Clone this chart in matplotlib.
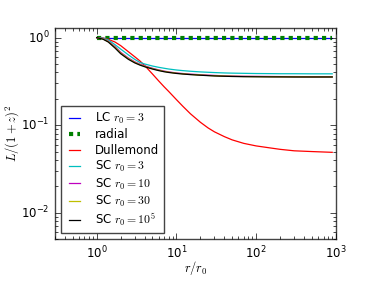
import matplotlib
matplotlib.use("Agg")
import matplotlib.pyplot as plt

plt.style.use("classic")
plt.rcParams.update({
    "font.family": "DejaVu Sans",
    "mathtext.fontset": "cm",
    "figure.facecolor": "white",
    "savefig.facecolor": "white",
})

# -- data ---------------------------------------------------------------
r_flat = [1.0, 900.0]
lc_r3 = [1.0, 1.0]
radial = [1.0, 1.0]

r = [1.0, 1.2, 1.4, 1.7, 2.0, 2.5, 3.0, 3.5, 4.0, 5.0, 6.0, 7.0, 8.0, 10,
     12, 15, 20, 25, 30, 40, 50, 70, 100, 150, 200, 300, 500, 900]
dullemond = [1.0, 0.99, 0.955, 0.89, 0.81, 0.69, 0.605, 0.54, 0.48, 0.385,
             0.32, 0.275, 0.243, 0.196, 0.165, 0.135, 0.108, 0.093, 0.084,
             0.074, 0.068, 0.062, 0.058, 0.055, 0.053, 0.051, 0.050, 0.049]
sc_r3 = [1.0, 0.985, 0.94, 0.83, 0.74, 0.635, 0.565, 0.52, 0.50, 0.474,
         0.458, 0.447, 0.438, 0.427, 0.42, 0.413, 0.406, 0.402, 0.399, 0.395,
         0.393, 0.391, 0.389, 0.388, 0.387, 0.387, 0.386, 0.386]
sc_r10 = [1.0, 0.97, 0.91, 0.79, 0.68, 0.585, 0.53, 0.497, 0.476, 0.447,
          0.428, 0.415, 0.406, 0.395, 0.389, 0.383, 0.377, 0.373, 0.37, 0.366,
          0.364, 0.362, 0.361, 0.36, 0.359, 0.359, 0.358, 0.358]
sc_r30 = [1.0, 0.965, 0.90, 0.775, 0.667, 0.575, 0.522, 0.49, 0.47, 0.442,
          0.424, 0.411, 0.403, 0.392, 0.386, 0.38, 0.374, 0.37, 0.367, 0.364,
          0.362, 0.36, 0.359, 0.358, 0.357, 0.357, 0.356, 0.356]
sc_r1e5 = [1.0, 0.96, 0.89, 0.76, 0.655, 0.565, 0.515, 0.485, 0.465, 0.438,
           0.42, 0.408, 0.40, 0.39, 0.384, 0.378, 0.372, 0.368, 0.365, 0.362,
           0.36, 0.358, 0.357, 0.356, 0.356, 0.355, 0.355, 0.355]

fig = plt.figure(figsize=(3.74, 2.82), dpi=100)
ax = fig.add_axes([0.147, 0.152, 0.751, 0.750])

ax.loglog(r_flat, lc_r3, color="b", lw=0.9, label=r"LC $r_0=3$")
ax.loglog(r_flat, radial, color="g", lw=3, dashes=(3, 3),
          dash_capstyle="butt", label="radial")
ax.loglog(r, dullemond, color="r", lw=0.9, label="Dullemond")
ax.loglog(r, sc_r3, color="c", lw=0.9, label=r"SC $r_0=3$")
ax.loglog(r, sc_r10, color="m", lw=0.9, label=r"SC $r_0=10$")
ax.loglog(r, sc_r30, color="y", lw=0.9, label=r"SC $r_0=30$")
ax.loglog(r, sc_r1e5, color="k", lw=0.9, label=r"SC $r_0=10^5$")

ax.set_xlim(0.3, 1000)
ax.set_ylim(0.005, 1.3)
ax.tick_params(labelsize=8.5)
for sp in ax.spines.values():
    sp.set_color("#444444")
ax.set_xlabel(r"$r/r_0$", fontsize=9)
ax.set_ylabel(r"$L/(1+z)^2$", fontsize=9)
ax.xaxis.set_label_coords(0.5, -0.095)
ax.yaxis.set_label_coords(-0.12, 0.5)

leg = ax.legend(loc="lower left", fontsize=8.5, handlelength=1.5,
                handletextpad=1.0, labelspacing=0.2, borderpad=0.4,
                borderaxespad=0.5)
leg.get_frame().set_linewidth(1.0)
leg.get_frame().set_edgecolor("#444444")

fig.savefig("out.png", dpi=100)
